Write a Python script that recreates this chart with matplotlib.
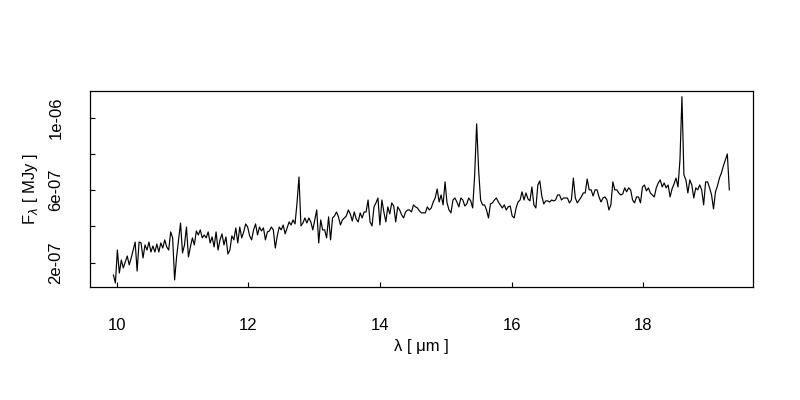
import matplotlib
matplotlib.use("Agg")
import matplotlib.pyplot as plt
import numpy as np

# wavelength samples (micron)
wavelength = [
    9.95, 9.98, 10.01, 10.04, 10.07, 10.10, 10.13, 10.16, 10.19, 10.22,
    10.25, 10.28, 10.31, 10.34, 10.37, 10.40, 10.43, 10.46, 10.49, 10.52,
    10.55, 10.58, 10.61, 10.64, 10.67, 10.70, 10.73, 10.76, 10.79, 10.82,
    10.85, 10.88, 10.91, 10.94, 10.97, 11.00, 11.03, 11.06, 11.09, 11.12,
    11.15, 11.18, 11.21, 11.24, 11.27, 11.30, 11.33, 11.36, 11.39, 11.42,
    11.45, 11.48, 11.51, 11.54, 11.57, 11.60, 11.63, 11.66, 11.69, 11.72,
    11.75, 11.78, 11.81, 11.84, 11.87, 11.90, 11.93, 11.96, 11.99, 12.02,
    12.05, 12.08, 12.11, 12.14, 12.17, 12.20, 12.23, 12.26, 12.29, 12.32,
    12.35, 12.38, 12.41, 12.44, 12.47, 12.50, 12.53, 12.56, 12.59, 12.62,
    12.65, 12.68, 12.71, 12.74, 12.77, 12.80, 12.83, 12.86, 12.89, 12.92,
    12.95, 12.98, 13.01, 13.04, 13.07, 13.10, 13.13, 13.16, 13.19, 13.22,
    13.25, 13.28, 13.31, 13.34, 13.37, 13.40, 13.43, 13.46, 13.49, 13.52,
    13.55, 13.58, 13.61, 13.64, 13.67, 13.70, 13.73, 13.76, 13.79, 13.82,
    13.85, 13.88, 13.91, 13.94, 13.97, 14.00, 14.03, 14.06, 14.09, 14.12,
    14.15, 14.18, 14.21, 14.24, 14.27, 14.30, 14.33, 14.36, 14.39, 14.42,
    14.45, 14.48, 14.51, 14.54, 14.57, 14.60, 14.63, 14.66, 14.69, 14.72,
    14.75, 14.78, 14.81, 14.84, 14.87, 14.90, 14.93, 14.96, 14.99, 15.02,
    15.05, 15.08, 15.11, 15.14, 15.17, 15.20, 15.23, 15.26, 15.29, 15.32,
    15.35, 15.38, 15.41, 15.44, 15.47, 15.50, 15.53, 15.56, 15.59, 15.62,
    15.65, 15.68, 15.71, 15.74, 15.77, 15.80, 15.83, 15.86, 15.89, 15.92,
    15.95, 15.98, 16.01, 16.04, 16.07, 16.10, 16.13, 16.16, 16.19, 16.22,
    16.25, 16.28, 16.31, 16.34, 16.37, 16.40, 16.43, 16.46, 16.49, 16.52,
    16.55, 16.58, 16.61, 16.64, 16.67, 16.70, 16.73, 16.76, 16.79, 16.82,
    16.85, 16.88, 16.91, 16.94, 16.97, 17.00, 17.03, 17.06, 17.09, 17.12,
    17.15, 17.18, 17.21, 17.24, 17.27, 17.30, 17.33, 17.36, 17.39, 17.42,
    17.45, 17.48, 17.51, 17.54, 17.57, 17.60, 17.63, 17.66, 17.69, 17.72,
    17.75, 17.78, 17.81, 17.84, 17.87, 17.90, 17.93, 17.96, 17.99, 18.02,
    18.05, 18.08, 18.11, 18.14, 18.17, 18.20, 18.23, 18.26, 18.29, 18.32,
    18.35, 18.38, 18.41, 18.44, 18.47, 18.50, 18.53, 18.56, 18.59, 18.62,
    18.65, 18.68, 18.71, 18.74, 18.77, 18.80, 18.83, 18.86, 18.89, 18.92,
    18.95, 18.98, 19.01, 19.04, 19.07, 19.10, 19.13, 19.16, 19.19, 19.22,
    19.25, 19.28, 19.31,
]

# flux in units of 1e-7 MJy
flux_e7 = [
    1.32, 0.88, 2.70, 1.43, 2.15, 1.71, 2.04, 2.37, 1.88, 2.26,
    2.70, 3.14, 1.54, 3.14, 3.09, 2.26, 2.98, 2.70, 3.14, 2.59,
    2.92, 2.59, 3.03, 2.59, 3.09, 2.81, 3.26, 2.87, 2.70, 3.70,
    3.37, 1.05, 2.32, 3.26, 4.19, 2.54, 2.98, 3.97, 2.32, 2.87,
    3.37, 2.98, 3.75, 3.53, 3.81, 3.37, 3.53, 3.37, 3.70, 3.09,
    3.42, 2.87, 3.70, 2.70, 3.26, 3.59, 2.98, 3.42, 2.48, 2.70,
    3.48, 3.26, 3.92, 3.09, 3.97, 3.37, 3.70, 4.14, 3.97, 3.48,
    3.26, 3.81, 4.14, 3.53, 3.97, 3.75, 3.92, 3.26, 3.70, 3.75,
    3.97, 3.81, 2.81, 3.48, 3.97, 3.81, 4.08, 3.59, 3.92, 4.25,
    4.08, 4.36, 4.14, 5.30, 6.73, 4.03, 4.19, 4.47, 4.19, 4.47,
    4.25, 3.81, 4.36, 4.91, 3.09, 4.36, 3.81, 3.81, 3.37, 4.53,
    3.26, 4.47, 4.58, 4.80, 4.53, 4.08, 4.36, 4.47, 4.58, 4.91,
    4.69, 4.30, 4.80, 4.41, 4.25, 4.75, 4.47, 4.80, 4.80, 5.46,
    4.25, 4.03, 5.08, 5.30, 5.57, 4.08, 5.46, 4.80, 4.25, 5.08,
    4.69, 5.30, 5.13, 4.25, 5.08, 4.91, 4.64, 4.47, 4.80, 4.91,
    4.91, 4.80, 5.19, 5.08, 5.02, 4.86, 4.75, 4.75, 4.75, 5.08,
    4.91, 5.02, 5.35, 5.57, 6.07, 5.35, 5.74, 5.19, 6.46, 5.30,
    4.91, 4.75, 5.46, 5.57, 5.35, 5.08, 5.57, 5.46, 5.13, 5.24,
    5.57, 5.41, 5.02, 6.84, 9.66, 7.12, 5.46, 5.19, 5.19, 4.91,
    4.47, 5.24, 5.30, 5.46, 5.57, 5.35, 5.19, 5.02, 5.19, 4.91,
    5.08, 5.13, 4.58, 4.47, 5.02, 5.35, 5.46, 5.91, 5.46, 5.85,
    5.52, 5.41, 6.18, 5.19, 5.02, 6.29, 6.51, 5.68, 5.24, 5.41,
    5.41, 5.35, 5.46, 5.41, 5.46, 5.74, 5.74, 5.46, 5.57, 5.57,
    5.57, 5.30, 5.46, 6.67, 5.57, 5.30, 5.46, 5.63, 5.85, 5.85,
    6.62, 6.02, 6.02, 5.68, 6.02, 6.02, 5.63, 5.35, 5.57, 5.63,
    5.46, 4.91, 5.19, 6.46, 6.02, 6.02, 5.85, 5.74, 5.79, 6.13,
    5.91, 6.13, 6.02, 5.46, 5.30, 5.63, 5.63, 5.30, 6.18, 6.29,
    5.96, 6.13, 5.85, 5.74, 5.63, 6.13, 6.40, 6.57, 6.18, 6.40,
    6.13, 6.29, 5.63, 6.07, 6.35, 6.67, 6.18, 7.67, 11.16, 6.84,
    6.57, 5.85, 6.57, 6.29, 5.57, 6.13, 6.02, 6.29, 6.02, 5.19,
    6.46, 6.46, 6.13, 5.74, 4.97, 5.91, 6.24, 6.67, 6.95, 7.34,
    7.67, 8.00, 6.02,
]

x_ticks = [10, 12, 14, 16, 18]
x_tick_labels = ["10", "12", "14", "16", "18"]
y_ticks = [2e-7, 4e-7, 6e-7, 8e-7, 1e-6]
y_tick_labels = ["2e-07", "", "6e-07", "", "1e-06"]

W, H = 800, 400
fig = plt.figure(figsize=(W / 100, H / 100), dpi=100)
left, right, top, bottom = 90, 753, 90.7, 287.3
ax = fig.add_axes([left / W, 1 - bottom / H, (right - left) / W, (bottom - top) / H])

flux = np.array(flux_e7) * 1e-7
ax.plot(wavelength, flux, color="black", linewidth=0.85)

ax.set_xlim(9.594, 19.67)
ax.set_ylim(0.643e-7, 1.149e-6)

font = "Liberation Sans"
fs = 12
ax.set_xticks(x_ticks)
ax.set_xticklabels(x_tick_labels, fontfamily=font, fontsize=fs)
ax.set_yticks(y_ticks)
ax.set_yticklabels(y_tick_labels, fontfamily=font, fontsize=fs, rotation=90, va="center")
ax.tick_params(axis="both", direction="in", length=3.8, width=0.8, color="black")
ax.tick_params(axis="x", pad=22)
ax.tick_params(axis="y", pad=19)
for s in ax.spines.values():
    s.set_linewidth(0.9)
    s.set_color("black")

fig.text(421.5 / W, 1 - 347 / H, "λ [ μm ]", fontfamily=font, fontsize=fs,
         ha="center", va="center")
fig.text(30 / W, 1 - 189 / H, r"F$_\lambda$ [ MJy ]", fontfamily=font, fontsize=fs,
         ha="center", va="center", rotation=90)

fig.savefig("out.png", dpi=100, facecolor="white")
